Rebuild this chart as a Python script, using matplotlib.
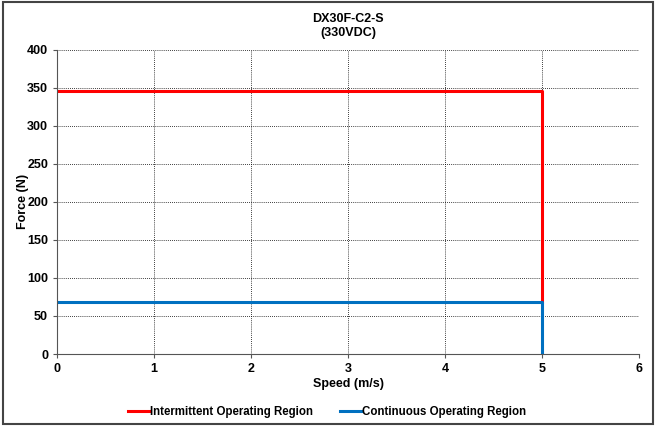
import matplotlib.pyplot as plt
from matplotlib.patches import Rectangle

plt.rcParams['font.family'] = ['Liberation Sans', 'DejaVu Sans']
plt.rcParams['font.weight'] = 'bold'

# Intermittent and continuous operating regions
inter_speed = [0, 5, 5]
inter_force = [346, 346, 69]
cont_speed = [0, 5, 5]
cont_force = [69, 69, 0]

fig = plt.figure(figsize=(6.56, 4.26), dpi=100)
ax = fig.add_axes([0.087, 0.169, 0.887, 0.714])

ax.plot(inter_speed, inter_force, color='#ff0000', linewidth=2.2,
        label='Intermittent Operating Region')
ax.plot(cont_speed, cont_force, color='#0070c0', linewidth=2.2,
        label='Continuous Operating Region')

ax.set_xlim(0, 6)
ax.set_ylim(0, 400)
ax.set_xticks(range(0, 7))
ax.set_yticks(range(0, 401, 50))
ax.grid(True, color='black', linestyle=(0, (1, 1.5)), linewidth=0.6)
for side in ['top', 'right']:
    ax.spines[side].set_visible(False)
for side in ['left', 'bottom']:
    ax.spines[side].set_color('#555555')
ax.tick_params(labelsize=9, length=3, color='#555555')

ax.set_xlabel('Speed (m/s)', fontsize=9, fontweight='bold', labelpad=2)
ax.set_ylabel('Force (N)', fontsize=9, fontweight='bold')
ax.yaxis.set_label_coords(-0.049, 0.5)
ax.set_title('DX30F-C2-S\n(330VDC)', fontsize=9, fontweight='bold', pad=10,
             linespacing=1.2)

fig.legend(loc='center', bbox_to_anchor=(0.4985, 0.033), ncol=2,
           frameon=False, fontsize=8.3, handlelength=1.9, handletextpad=0.0,
           columnspacing=2.4)

fig.patches.append(Rectangle((0.004, 0.004), 0.992, 0.992,
                             transform=fig.transFigure, fill=False,
                             edgecolor='#444444', linewidth=1.5))

fig.savefig('out.png', dpi=100)
